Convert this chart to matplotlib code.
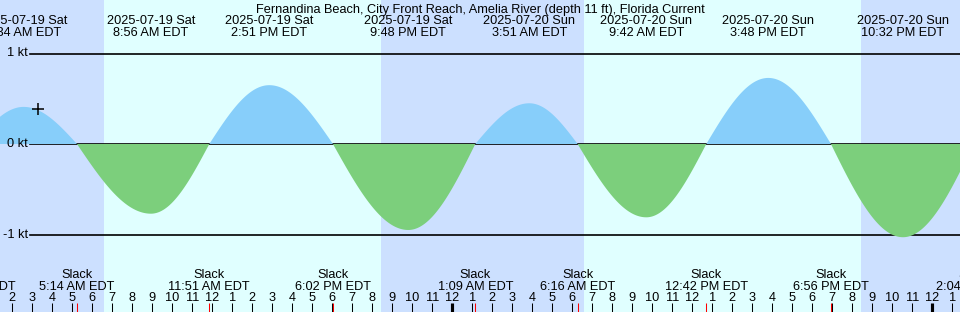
import numpy as np
import pandas as pd
import matplotlib
matplotlib.use("Agg")
import matplotlib.pyplot as plt

plt.rcParams['font.family'] = ['Liberation Sans', 'DejaVu Sans']

title = "Fernandina Beach, City Front Reach, Amelia River (depth 11 ft), Florida Current"

# max flood / max ebb events
ext_times = ["2025-07-19 02:34", "2025-07-19 08:56", "2025-07-19 14:51", "2025-07-19 21:48",
             "2025-07-20 03:51", "2025-07-20 09:42", "2025-07-20 15:48", "2025-07-20 22:32"]
ext_values = [0.41, -0.77, 0.65, -0.95, 0.45, -0.81, 0.73, -1.03]

# slack water events
slack_times = ["2025-07-19 00:05", "2025-07-19 05:14", "2025-07-19 11:51", "2025-07-19 18:02",
               "2025-07-20 01:09", "2025-07-20 06:16", "2025-07-20 12:42", "2025-07-20 18:56",
               "2025-07-21 02:04"]

# night periods (sunset -> sunrise)
night_start = ["2025-07-18 20:26", "2025-07-19 20:26", "2025-07-20 20:26"]
night_end = ["2025-07-19 06:35", "2025-07-20 06:35", "2025-07-21 06:35"]

mark_time = "2025-07-19 03:17"
mark_value = 0.39

kt_levels = [1, 0, -1]

base = pd.Timestamp("2025-07-19 00:00")
t_start = 1.385
t_end = t_start + 48

W, H = 960, 312
y_zero_px, px_per_kt = 144.0, 90.5

NIGHT = "#cce0ff"
DAY = "#e0ffff"
FLOOD = "#87cefa"
EBB = "#7ccf7c"
FS = 9.2


def hours(s):
    return (pd.Timestamp(s) - base) / pd.Timedelta(hours=1)


def yfrac(px):
    return 1 - px / H


ext_t = np.array([hours(s) for s in ext_times])
slack_t = np.array([hours(s) for s in slack_times])

# merge events in time order
ev_t = np.concatenate([ext_t, slack_t])
ev_v = np.concatenate([ext_values, np.zeros(len(slack_t))])
order = np.argsort(ev_t)
ev_t, ev_v = ev_t[order], ev_v[order]

t = np.linspace(t_start, t_end, 2000)
v = np.zeros_like(t)
for i in range(len(ev_t) - 1):
    t0, t1 = ev_t[i], ev_t[i + 1]
    m = (t >= t0) & (t <= t1)
    f = (t[m] - t0) / (t1 - t0)
    if ev_v[i] == 0:
        v[m] = ev_v[i + 1] * np.sin(np.pi / 2 * f)
    else:
        v[m] = ev_v[i] * np.cos(np.pi / 2 * f)

fig = plt.figure(figsize=(W / 100, H / 100), dpi=100)
ax = fig.add_axes([0, 0, 1, 1])
ax.set_xlim(t_start, t_end)
ax.set_ylim((y_zero_px - H) / px_per_kt, y_zero_px / px_per_kt)
ax.axis("off")
ax.set_facecolor(DAY)
fig.patch.set_facecolor(DAY)

for s, e in zip(night_start, night_end):
    ax.axvspan(hours(s), hours(e), color=NIGHT, lw=0, zorder=0)

for k in kt_levels:
    ax.axhline(k, xmin=30 / W, xmax=1, color="black", lw=1.2, zorder=1)
    ax.text(28 / W, k, f"{k} kt", transform=ax.get_yaxis_transform(),
            ha="right", va="center", fontsize=FS)

ax.fill_between(t, 0, v, where=v >= 0, color=FLOOD, lw=0, zorder=2, interpolate=True)
ax.fill_between(t, 0, v, where=v <= 0, color=EBB, lw=0, zorder=2, interpolate=True)

ax.plot([hours(mark_time)], [mark_value], marker="+", ms=9, mew=1.1, color="black", zorder=3)

tr = ax.get_xaxis_transform()
ax.text(0.5, yfrac(12.5), title, transform=ax.transAxes, ha="center", va="baseline", fontsize=FS)

for s in ext_times:
    ts = pd.Timestamp(s)
    x = hours(s)
    ax.text(x, yfrac(24), ts.strftime("%Y-%m-%d %a"), transform=tr, ha="center", va="baseline", fontsize=FS)
    ax.text(x, yfrac(36), ts.strftime("%I:%M %p EDT").lstrip("0"), transform=tr,
            ha="center", va="baseline", fontsize=FS)

for s in slack_times:
    ts = pd.Timestamp(s)
    x = hours(s)
    ax.text(x, yfrac(278.5), "Slack", transform=tr, ha="center", va="baseline", fontsize=FS)
    ax.text(x, yfrac(289.5), ts.strftime("%I:%M %p EDT").lstrip("0"), transform=tr,
            ha="center", va="baseline", fontsize=FS)

# hour ticks along the bottom
for h in range(int(np.ceil(t_start)), int(t_end) + 1):
    label = str((h - 1) % 12 + 1)
    ax.text(h, yfrac(301), label, transform=tr, ha="center", va="baseline", fontsize=FS)
    lw = 3 if h % 24 == 0 else 1
    ax.plot([h, h], [yfrac(303), 0], transform=tr, color="black", lw=lw * 0.75,
            solid_capstyle="butt", zorder=4)

for x in slack_t:
    ax.plot([x, x], [yfrac(303), 0], transform=tr, color="red", lw=0.75,
            solid_capstyle="butt", zorder=4)

fig.savefig("out.png", dpi=100)
